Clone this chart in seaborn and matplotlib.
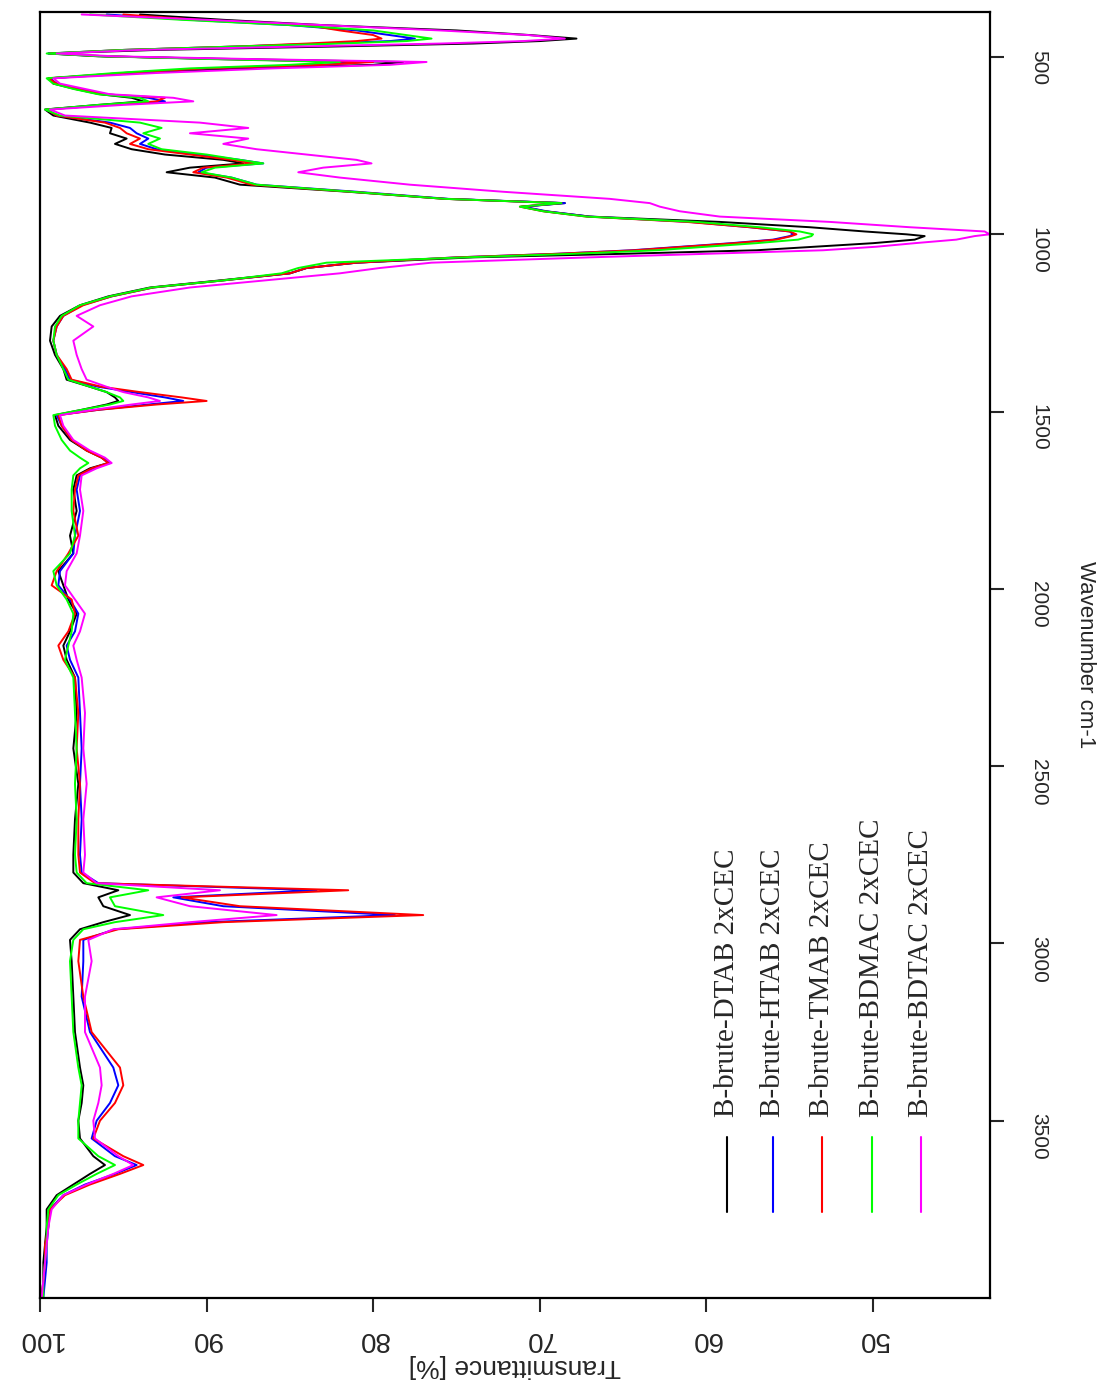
import numpy as np
import pandas as pd
import matplotlib
matplotlib.use("Agg")
import matplotlib.pyplot as plt
import seaborn as sns

# ---------------- data ----------------
wavenumber = [380, 395, 410, 425, 438, 448, 455, 462, 470, 480, 490, 498, 506, 514, 522, 532, 545,
              560, 575, 590, 605, 615, 625, 635, 648, 665, 685, 700, 715, 730, 745, 760, 775, 790,
              800, 812, 825, 840, 860, 880, 900, 912, 922, 935, 950, 965, 980, 992, 1000, 1005,
              1015, 1025, 1035, 1045, 1055, 1065, 1080, 1095, 1110, 1130, 1150, 1175, 1200, 1230,
              1260, 1300, 1340, 1380, 1410, 1430, 1445, 1460, 1470, 1480, 1495, 1510, 1540, 1580,
              1610, 1630, 1645, 1660, 1680, 1720, 1780, 1850, 1900, 1950, 1990, 2030, 2070, 2120,
              2160, 2200, 2250, 2350, 2450, 2550, 2650, 2750, 2800, 2830, 2850, 2870, 2895, 2920,
              2940, 2960, 2990, 3050, 3150, 3250, 3350, 3400, 3450, 3500, 3550, 3600, 3625, 3650,
              3680, 3710, 3750, 3800, 3850, 3900, 3950, 4000]

t_dtab = [94.0, 89.0, 83.0, 75.0, 70.6, 67.8, 70.0, 74.0, 82.0, 93.0, 99.5, 96.5, 88.0, 78.2, 80.0, 88.0, 94.0,
          99.5, 99.2, 97.9, 96.4, 94.5, 93.8, 96.5, 99.7, 99.2, 97.0, 95.7, 95.8, 94.8, 95.5, 94.5, 92.5, 89.0,
          87.8, 91.0, 92.4, 89.5, 88.0, 81.5, 75.7, 68.5, 71.1, 69.7, 67.0, 59.2, 53.8, 50.5, 48.0, 46.9,
          47.5, 50.0, 53.5, 57.0, 65.0, 74.0, 81.0, 84.0, 85.0, 89.2, 93.4, 95.9, 97.6, 98.8,
          99.3, 99.4, 99.1, 98.6, 98.4, 97.0, 96.0, 95.5, 95.3, 96.0, 97.5, 99.1, 98.9, 98.2,
          97.2, 96.3, 95.9, 97.0, 97.8, 98.0, 97.8, 98.2, 98.0, 98.9, 98.6, 98.3, 97.8, 98.2,
          98.6, 98.4, 97.9, 97.8, 98.0, 97.7, 97.9, 98.0, 98.0, 97.4, 95.3, 96.5, 96.2, 94.6,
          96.2, 97.6, 98.2, 98.1, 98.0, 97.9, 97.6, 97.4, 97.5, 97.7, 97.6, 96.8, 96.1, 97.0,
          98.0, 99.0, 99.6, 99.6, 99.7, 99.8, 99.8, 99.9]

t_htab = [96.0, 91.0, 85.0, 81.0, 79.0, 77.5, 79.0, 83.0, 88.0, 95.0, 99.5, 96.0, 89.0, 80.5, 83.0, 90.0, 95.0,
          99.4, 99.0, 97.6, 96.0, 93.5, 92.5, 96.0, 99.6, 99.0, 95.8, 94.6, 94.2, 93.5, 94.0, 93.0, 90.5, 88.0,
          86.6, 90.0, 90.5, 88.5, 87.0, 81.0, 75.5, 68.5, 71.0, 69.6, 67.0, 61.0, 57.4, 55.0, 54.8, 55.0,
          56.0, 58.5, 61.5, 64.5, 69.0, 75.0, 81.0, 84.0, 85.0, 89.0, 93.2, 95.7, 97.5, 98.6,
          99.0, 99.2, 99.0, 98.5, 98.2, 96.5, 94.5, 92.5, 91.4, 93.5, 96.5, 99.0, 98.7, 98.1,
          97.1, 96.2, 95.8, 96.8, 97.6, 97.8, 97.6, 97.9, 98.0, 98.8, 98.9, 98.2, 97.7, 97.9,
          98.4, 98.2, 97.7, 97.6, 97.5, 97.6, 97.5, 97.6, 97.5, 96.5, 83.4, 92.0, 89.0, 78.7,
          90.0, 95.5, 97.4, 97.4, 97.5, 97.0, 95.6, 95.3, 95.8, 96.6, 96.9, 95.5, 94.2, 95.5,
          97.3, 98.6, 99.4, 99.5, 99.6, 99.6, 99.7, 99.8]

t_tmab = [95.0, 90.5, 84.0, 82.0, 80.0, 79.5, 81.0, 84.0, 88.0, 95.0, 99.4, 96.0, 89.0, 80.0, 83.0, 90.0, 95.0,
          99.5, 99.0, 97.8, 96.2, 92.5, 93.0, 96.0, 99.6, 99.0, 96.1, 95.2, 94.8, 94.0, 94.6, 93.5, 91.0, 88.5,
          87.2, 90.2, 90.8, 88.8, 87.3, 81.3, 75.7, 68.7, 71.2, 69.8, 67.2, 61.2, 57.4, 55.0, 54.6, 54.9,
          55.8, 58.3, 61.3, 64.3, 69.0, 75.0, 81.0, 84.0, 85.0, 89.0, 93.2, 95.7, 97.4, 98.6,
          99.0, 99.2, 99.0, 98.4, 98.1, 96.3, 94.0, 91.5, 90.0, 93.0, 96.5, 98.9, 98.7, 98.1,
          97.2, 96.3, 95.9, 96.9, 97.7, 97.9, 98.0, 97.7, 98.3, 99.0, 99.3, 98.1, 97.9, 98.3,
          98.9, 98.6, 97.9, 97.7, 97.8, 97.6, 97.7, 97.7, 97.6, 96.7, 81.5, 91.5, 88.0, 77.0,
          89.0, 95.3, 97.6, 97.7, 97.4, 96.9, 95.2, 95.0, 95.5, 96.4, 96.8, 95.0, 93.8, 95.2,
          97.0, 98.5, 99.4, 99.5, 99.7, 99.7, 99.8, 99.9]

t_bdmac = [97.0, 91.5, 85.0, 80.0, 78.0, 76.5, 78.0, 82.0, 88.0, 95.0, 99.6, 96.3, 89.5, 82.0, 85.0, 91.0, 95.5,
           99.6, 99.2, 98.0, 96.5, 94.0, 93.5, 96.5, 99.7, 98.8, 94.0, 92.7, 93.8, 92.8, 93.5, 92.7, 90.0, 88.0,
           86.6, 89.5, 90.3, 88.5, 87.0, 81.3, 75.7, 68.7, 71.2, 69.8, 67.2, 60.6, 56.8, 54.4, 53.6, 53.7,
           54.5, 57.0, 60.0, 63.0, 68.0, 74.5, 82.8, 84.5, 85.5, 89.0, 93.3, 95.8, 97.6, 98.7,
           99.1, 99.2, 99.0, 98.6, 98.3, 97.0, 96.0, 95.2, 95.0, 95.8, 97.5, 99.2, 99.1, 98.7,
           98.2, 97.6, 97.1, 97.6, 98.0, 98.1, 98.1, 97.9, 98.2, 99.2, 99.0, 98.4, 98.0, 98.1,
           98.3, 98.5, 98.0, 97.9, 97.8, 97.9, 97.8, 97.9, 97.8, 97.2, 93.5, 95.8, 95.5, 92.6,
           95.5, 97.4, 98.0, 98.2, 98.1, 98.0, 97.7, 97.5, 97.6, 97.7, 97.7, 96.5, 95.5, 96.6,
           97.8, 98.9, 99.5, 99.6, 99.6, 99.7, 99.8, 99.8]

t_bdtac = [97.5, 90.0, 83.0, 76.0, 70.7, 68.5, 71.0, 76.0, 84.0, 94.0, 99.0, 95.5, 87.0, 76.8, 79.0, 86.0, 93.0,
           99.2, 98.8, 97.3, 95.8, 92.0, 90.8, 95.0, 99.4, 98.5, 90.4, 87.5, 91.0, 87.5, 89.0, 87.0, 84.0, 81.0,
           80.1, 83.0, 84.5, 82.0, 77.8, 72.2, 65.8, 63.4, 62.8, 61.6, 59.2, 52.6, 47.8, 43.3, 43.0, 43.9,
           45.0, 47.5, 49.8, 53.0, 60.0, 67.0, 76.5, 79.6, 82.0, 86.5, 91.0, 94.5, 96.4, 97.8,
           96.8, 98.0, 97.8, 97.5, 97.2, 96.0, 95.0, 93.5, 92.8, 94.5, 96.8, 98.8, 98.6, 98.0,
           97.0, 96.1, 95.7, 96.6, 97.5, 97.6, 97.4, 97.6, 97.8, 98.4, 98.5, 97.9, 97.3, 97.6,
           98.0, 97.8, 97.5, 97.3, 97.4, 97.2, 97.4, 97.3, 97.4, 96.6, 89.2, 93.0, 91.0, 85.8,
           91.0, 95.6, 97.1, 96.9, 97.3, 97.3, 96.4, 96.3, 96.5, 96.8, 96.7, 95.3, 94.4, 95.6,
           97.2, 98.6, 99.3, 99.5, 99.6, 99.7, 99.8, 99.9]

labels = ["B-brute-DTAB 2xCEC", "B-brute-HTAB 2xCEC", "B-brute-TMAB 2xCEC",
          "B-brute-BDMAC 2xCEC", "B-brute-BDTAC 2xCEC"]
colors = ["#000000", "#0000ff", "#ff0000", "#00ff00", "#ff00ff"]
series = [t_dtab, t_htab, t_tmab, t_bdmac, t_bdtac]

x_ticks = [100, 90, 80, 70, 60, 50]
y_ticks = [500, 1000, 1500, 2000, 2500, 3000, 3500]

# long-form table
frames = []
for lab, vals in zip(labels, series):
    frames.append(pd.DataFrame({"wavenumber": wavenumber, "transmittance": vals, "sample": lab}))
df = pd.concat(frames, ignore_index=True)

# ---------------- figure ----------------
sns.set_style("white")
plt.rcParams["font.family"] = ["Liberation Sans", "DejaVu Sans"]

W, H = 1102, 1387
fig = plt.figure(figsize=(W / 100, H / 100), dpi=100)
ax = fig.add_axes([40 / W, 1 - 1298 / H, 950 / W, 1286 / H])

sns.lineplot(data=df, x="transmittance", y="wavenumber", hue="sample", hue_order=labels,
             palette=colors, orient="y", sort=False, estimator=None, legend=False,
             linewidth=1.4, ax=ax)

ax.set_xlim(100, 42.98)
ax.set_ylim(4000, 373)

for s in ax.spines.values():
    s.set_visible(True)
    s.set_linewidth(1.6)
    s.set_color("black")

ax.set_xticks(x_ticks)
ax.set_xticklabels([str(v) for v in x_ticks], rotation=180, fontsize=20)
ax.yaxis.tick_right()
ax.set_yticks(y_ticks)
ax.set_yticklabels([str(v) for v in y_ticks], rotation=270, fontsize=15)
ax.tick_params(axis="x", direction="out", length=10, width=1.5, pad=10, bottom=True)
ax.tick_params(axis="y", direction="out", length=10, width=1.5, pad=18, right=True, left=False)

ax.set_xlabel("Transmittance [%]", rotation=180, fontsize=19, va="center", ha="center")
ax.xaxis.set_label_coords(0.5, -0.0525)
ax.yaxis.set_label_position("right")
ax.set_ylabel("Wavenumber cm-1", rotation=270, fontsize=16, va="center", ha="center")
ax.yaxis.set_label_coords(1.1, 0.5)

# legend drawn rotated, like the reference
leg_x = [0.723, 0.7716, 0.823, 0.876, 0.927]
for lx, lab, col in zip(leg_x, labels, colors):
    ax.plot([lx, lx], [0.0669, 0.1252], color=col, lw=1.5, transform=ax.transAxes)
    ax.text(lx, 0.1407, lab, rotation=90, rotation_mode="anchor", ha="left", va="center",
            transform=ax.transAxes, fontsize=21, family=["Liberation Serif", "DejaVu Serif"])

fig.savefig("out.png", dpi=100)
